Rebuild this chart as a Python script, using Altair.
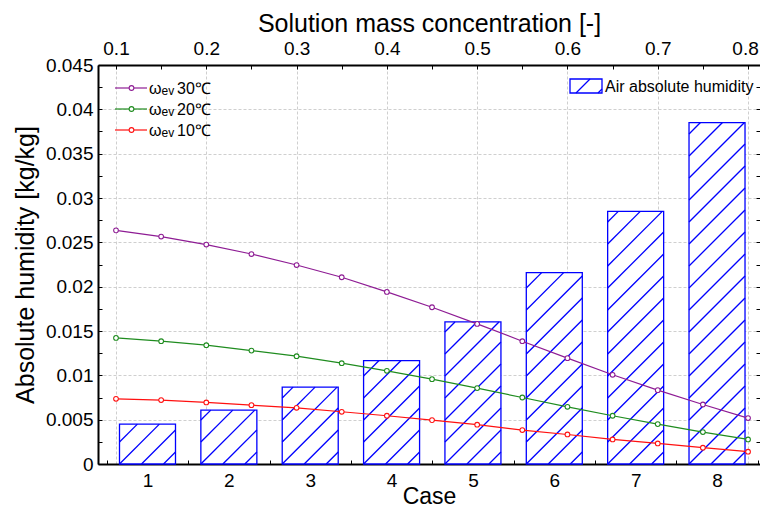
import altair as alt
import pandas as pd

# ---------------- data ----------------
cases = [1, 2, 3, 4, 5, 6, 7, 8]
air_abs_humidity = [0.0045, 0.00608, 0.00867, 0.01167, 0.01602, 0.02158, 0.02849, 0.03851]

concentration = [0.10, 0.15, 0.20, 0.25, 0.30, 0.35, 0.40, 0.45,
                 0.50, 0.55, 0.60, 0.65, 0.70, 0.75, 0.80]
omega_30C = [0.02635, 0.02565, 0.02475, 0.02368, 0.02244, 0.02106, 0.01941, 0.01768,
             0.01580, 0.01385, 0.01194, 0.01006, 0.00833, 0.00671, 0.00518]
omega_20C = [0.01422, 0.01385, 0.01340, 0.01279, 0.01216, 0.01137, 0.01051, 0.00957,
             0.00856, 0.00750, 0.00645, 0.00544, 0.00450, 0.00360, 0.00277]
omega_10C = [0.00735, 0.00721, 0.00694, 0.00664, 0.00634, 0.00589, 0.00544, 0.00495,
             0.00443, 0.00383, 0.00333, 0.00277, 0.00232, 0.00184, 0.00139]

series_names = ["w30", "w20", "w10"]
series_temps = ["30℃", "20℃", "10℃"]
series_colors = ["#8e1c94", "#1f8c1f", "#ff1010"]

y_major = [0, 0.005, 0.01, 0.015, 0.02, 0.025, 0.03, 0.035, 0.04, 0.045]
y_minor = [0, 0.0025, 0.005, 0.0075, 0.01, 0.0125, 0.015, 0.0175, 0.02, 0.0225,
           0.025, 0.0275, 0.03, 0.0325, 0.035, 0.0375, 0.04, 0.0425, 0.045]
conc_major = [0.1, 0.2, 0.3, 0.4, 0.5, 0.6, 0.7, 0.8]
conc_minor = concentration
case_minor = [0.5, 1, 1.5, 2, 2.5, 3, 3.5, 4, 4.5, 5, 5.5, 6, 6.5, 7, 7.5, 8, 8.5]

# ---------------- layout ----------------
FONT = "Liberation Sans"
W, H = 662, 399
CASE_DOMAIN = [0.3916, 8.5283]
CONC_DOMAIN = [0.08006, 0.81325]
Y_DOMAIN = [0, 0.045]
BAR_PX = 56
HATCH_SPACING = 22
BLUE = "#0000ff"
GRID = "#cfcfcf"

case_scale = alt.Scale(domain=CASE_DOMAIN, nice=False, zero=False, padding=0)
conc_scale = alt.Scale(domain=CONC_DOMAIN, nice=False, zero=False, padding=0)
y_scale = alt.Scale(domain=Y_DOMAIN, nice=False, zero=False, padding=0)

bar_df = pd.DataFrame({"case": cases, "hum": air_abs_humidity})

# hatch segments (45 degrees in screen space) computed from each bar
px_case = W / (CASE_DOMAIN[1] - CASE_DOMAIN[0])
px_y = H / (Y_DOMAIN[1] - Y_DOMAIN[0])
rows = []
for c, h in zip(cases, air_abs_humidity):
    left = c - BAR_PX / 2 / px_case
    hp = h * px_y
    k = -int(BAR_PX // HATCH_SPACING)
    while k * HATCH_SPACING <= hp:
        d = k * HATCH_SPACING
        ua = max(0.0, -d)
        ub = min(float(BAR_PX), hp - d)
        if ub - ua > 0.5:
            rows.append({"hx0": left + ua / px_case, "hx1": left + ub / px_case,
                         "hy0": (ua + d) / px_y, "hy1": (ub + d) / px_y})
        k += 1
hatch_df = pd.DataFrame(rows)

line_rows = []
for name, vals in zip(series_names, [omega_30C, omega_20C, omega_10C]):
    for cval, v in zip(concentration, vals):
        line_rows.append({"conc": cval, "val": v, "series": name})
line_df = pd.DataFrame(line_rows)

# ---------------- axes ----------------
bottom_main = alt.Axis(orient="bottom", values=cases, format="d", labelFontSize=19,
                       labelFont=FONT, titleFont=FONT, labelColor="black", titleColor="black",
                       title="Case", titleFontSize=23, titleFontWeight="normal",
                       ticks=False, domainColor="black", domainWidth=2, grid=False,
                       labelPadding=7, titlePadding=-5, labelFlush=False, labelOverlap=False)
bottom_ticks = alt.Axis(orient="bottom", values=case_minor, ticks=True, tickSize=4,
                        tickColor="black", offset=-4, labels=False, domain=False, grid=False)
left_main = alt.Axis(orient="left", values=y_major, format="~g", labelFontSize=19,
                     labelFont=FONT, titleFont=FONT, labelColor="black", titleColor="black",
                     title="Absolute humidity [kg/kg]", titleFontSize=25, titleFontWeight="normal",
                     ticks=False, domainColor="black", domainWidth=2, grid=True,
                     gridColor=GRID, gridDash=[3, 2], labelPadding=5, titlePadding=7,
                     labelFlush=False, labelOverlap=False)
left_ticks = alt.Axis(orient="left", values=y_minor, ticks=True, tickSize=4, tickColor="black",
                      offset=-4, labels=False, domain=False, grid=False)
right_ticks = alt.Axis(orient="right", values=y_minor, ticks=True, tickSize=4, tickColor="black",
                       offset=-4, labels=False, domain=False, grid=False)
top_main = alt.Axis(orient="top", values=conc_major, format=".1f", labelFontSize=19,
                    labelFont=FONT, titleFont=FONT, labelColor="black", titleColor="black",
                    title="Solution mass concentration [-]", titleFontSize=25,
                    titleFontWeight="normal", ticks=False, domainColor="black", domainWidth=2,
                    grid=True, gridColor=GRID, gridDash=[3, 2], labelPadding=7, titlePadding=3,
                    labelFlush=False, labelOverlap=False,
                    labelOffset={"condition": {"test": "datum.value > 0.75", "value": -3}, "value": 0})
top_ticks = alt.Axis(orient="top", values=conc_minor, ticks=True, tickSize=4, tickColor="black",
                     offset=-4, labels=False, domain=False, grid=False)

# ---------------- marks ----------------
bars = alt.Chart(bar_df).mark_bar(size=BAR_PX, fill="white", stroke=BLUE, strokeWidth=1.3).encode(
    x=alt.X("case:Q", scale=case_scale, axis=bottom_main),
    y=alt.Y("hum:Q", scale=y_scale, axis=left_main),
)
hatch = alt.Chart(hatch_df).mark_rule(color=BLUE, strokeWidth=1.3).encode(
    x=alt.X("hx0:Q", scale=case_scale, axis=bottom_ticks, title=None),
    x2="hx1:Q",
    y=alt.Y("hy0:Q", scale=y_scale, axis=left_ticks, title=None),
    y2="hy1:Q",
)
color_enc = alt.Color("series:N", scale=alt.Scale(domain=series_names, range=series_colors), legend=None)
lines = alt.Chart(line_df).mark_line(strokeWidth=1.2).encode(
    x=alt.X("conc:Q", scale=conc_scale, axis=top_main),
    y=alt.Y("val:Q", scale=y_scale, axis=None),
    color=color_enc,
    detail="series:N",
)
points = alt.Chart(line_df).mark_point(shape="circle", size=22, filled=False, fill="white",
                                       fillOpacity=1, opacity=1, strokeWidth=1.1).encode(
    x=alt.X("conc:Q", scale=conc_scale, axis=top_ticks, title=None),
    y=alt.Y("val:Q", scale=y_scale, axis=right_ticks, title=None),
    color=color_enc,
)

bar_group = alt.layer(bars, hatch).resolve_axis(x="independent", y="independent")
line_group = alt.layer(lines, points).resolve_axis(x="independent", y="independent")

# ---------------- custom legends ----------------
legend_layers = []
for i, (name, temp, col) in enumerate(zip(series_names, series_temps, series_colors)):
    y0 = 23 + 21 * i
    ldf = pd.DataFrame({"series": [name], "sym": ["ω"], "sub": ["ev"], "temp": [temp]})
    base = alt.Chart(ldf)
    legend_layers.append(base.mark_rule(color=col, strokeWidth=1.2).encode(
        x=alt.value(17), x2=alt.value(49), y=alt.value(y0)))
    legend_layers.append(base.mark_point(shape="circle", size=22, filled=False, fill="white",
                                         fillOpacity=1, stroke=col, strokeWidth=1.1, opacity=1).encode(
        x=alt.value(33.5), y=alt.value(y0)))
    legend_layers.append(base.mark_text(align="left", baseline="alphabetic", font=FONT,
                                        fontSize=16, color="black").encode(
        x=alt.value(51), y=alt.value(y0 + 6), text="sym:N"))
    legend_layers.append(base.mark_text(align="left", baseline="alphabetic", font=FONT,
                                        fontSize=12, color="black").encode(
        x=alt.value(63.5), y=alt.value(y0 + 7), text="sub:N"))
    legend_layers.append(base.mark_text(align="left", baseline="alphabetic", font=FONT,
                                        fontSize=16, color="black").encode(
        x=alt.value(79), y=alt.value(y0 + 6), text="temp:N"))

bl_df = pd.DataFrame({"label": ["Air absolute humidity"]})
bl = alt.Chart(bl_df)
legend_layers.append(bl.mark_rect(fill="white", stroke=BLUE, strokeWidth=1.3).encode(
    x=alt.value(472), x2=alt.value(504), y=alt.value(14), y2=alt.value(28)))
legend_layers.append(bl.mark_rule(color=BLUE, strokeWidth=1.3).encode(
    x=alt.value(478), y=alt.value(28), x2=alt.value(492), y2=alt.value(14)))
legend_layers.append(bl.mark_rule(color=BLUE, strokeWidth=1.3).encode(
    x=alt.value(500), y=alt.value(28), x2=alt.value(504), y2=alt.value(24)))
legend_layers.append(bl.mark_text(align="left", baseline="alphabetic", font=FONT,
                                  fontSize=16, color="black").encode(
    x=alt.value(507), y=alt.value(27), text="label:N"))

chart = alt.layer(bar_group, line_group, *legend_layers).resolve_scale(
    x="independent"
).resolve_axis(
    x="independent", y="independent"
).properties(
    width=W, height=H,
    autosize=alt.AutoSizeParams(type="none"),
    padding={"left": 90, "top": 57, "right": 0, "bottom": 46},
).configure_view(stroke="transparent").configure(font=FONT)

chart.save("out.html", embed_options={"renderer": "svg", "actions": False})
